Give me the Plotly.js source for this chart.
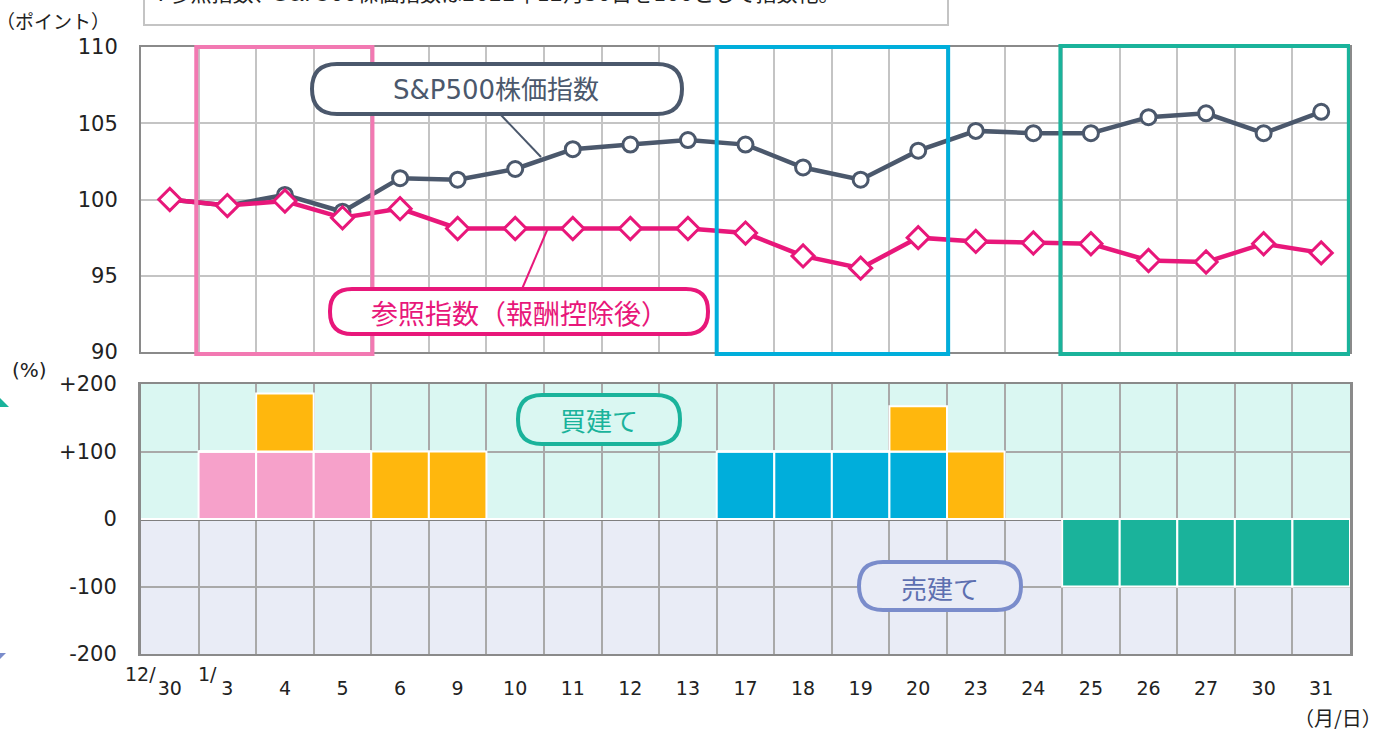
<!DOCTYPE html>
<html>
<head>
<meta charset="utf-8">
<script src="https://cdn.plot.ly/plotly-3.0.1.min.js"></script>
<style>html,body{margin:0;padding:0;background:#fff;}#chart{width:1379px;height:729px;}</style>
</head>
<body>
<div id="chart"></div>
<script>
// ---- data ----
const categories = ['12/30','1/3','4','5','6','9','10','11','12','13','17','18','19','20','23','24','25','26','27','30','31'];
const tickLabels = ['30','3','4','5','6','9','10','11','12','13','17','18','19','20','23','24','25','26','27','30','31'];
const monthPrefixes = [{cat: 0, text: '12/'}, {cat: 1, text: '1/'}];
const sp500 = [100.0, 99.6, 100.3, 99.2, 101.4, 101.3, 102.0, 103.3, 103.6, 103.9, 103.6, 102.1, 101.3, 103.2, 104.5, 104.35, 104.35, 105.4, 105.65, 104.35, 105.75];
const refIndex = [100.0, 99.6, 99.9, 98.8, 99.4, 98.1, 98.1, 98.1, 98.1, 98.1, 97.8, 96.3, 95.5, 97.5, 97.25, 97.15, 97.1, 96.0, 95.9, 97.1, 96.5];
const allocPink   = [0,100,100,100,0,0,0,0,0,0,0,0,0,0,0,0,0,0,0,0,0];
const allocBlue   = [0,0,0,0,0,0,0,0,0,0,100,100,100,100,0,0,0,0,0,0,0];
const allocGreen  = [0,0,0,0,0,0,0,0,0,0,0,0,0,0,0,0,-100,-100,-100,-100,-100];
const allocOrange = [0,0,86,0,100,100,0,0,0,0,0,0,0,67,100,0,0,0,0,0,0];
const upperTicks = [90,95,100,105,110];
const lowerTickVals = [-200,-100,0,100,200];
const lowerTickText = ['-200','-100','0','+100','+200'];

// ---- geometry helpers (pixel -> paper) ----
const L = 141, R = 1350, T = 47, B = 654;
const px = x => (x - L) / (R - L);
const py = y => (B - y) / (B - T);
function roundRect(x0, y0, x1, y1, r) {
  const p = (x, y) => px(x).toFixed(5) + ',' + py(y).toFixed(5);
  return 'M' + p(x0 + r, y0) + ' L' + p(x1 - r, y0) + ' Q' + p(x1, y0) + ' ' + p(x1, y0 + r) +
    ' L' + p(x1, y1 - r) + ' Q' + p(x1, y1) + ' ' + p(x1 - r, y1) +
    ' L' + p(x0 + r, y1) + ' Q' + p(x0, y1) + ' ' + p(x0, y1 - r) +
    ' L' + p(x0, y0 + r) + ' Q' + p(x0, y0) + ' ' + p(x0 + r, y0) + ' Z';
}
function tri(pts) {
  return 'M' + pts.map(q => px(q[0]).toFixed(5) + ',' + py(q[1]).toFixed(5)).join(' L') + ' Z';
}

const idx = categories.map((c, i) => i);
const FONT = 'DejaVu Sans, Noto Sans CJK JP, sans-serif';
const JFONT = 'Noto Sans CJK JP, DejaVu Sans, sans-serif';

const barLine = {color: '#ffffff', width: 2};
const traces = [
  {type: 'bar', x: idx, y: allocPink, xaxis: 'x', yaxis: 'y', width: 1, marker: {color: '#f6a1ca', line: barLine}, name: '1/3-5'},
  {type: 'bar', x: idx, y: allocBlue, xaxis: 'x', yaxis: 'y', width: 1, marker: {color: '#00aedb', line: barLine}, name: '1/17-20'},
  {type: 'bar', x: idx, y: allocGreen, xaxis: 'x', yaxis: 'y', width: 1, marker: {color: '#1ab39b', line: barLine}, name: '1/25-31'},
  {type: 'bar', x: idx, y: allocOrange, xaxis: 'x', yaxis: 'y', width: 1, marker: {color: '#ffb70d', line: barLine}, name: 'other'},
  {type: 'scatter', mode: 'lines+markers', x: idx, y: sp500, xaxis: 'x2', yaxis: 'y2', name: 'S&P500株価指数',
    line: {color: '#4b586c', width: 4.5}, marker: {symbol: 'circle', size: 15, color: '#ffffff', line: {color: '#4b586c', width: 3}}},
  {type: 'scatter', mode: 'lines+markers', x: idx, y: refIndex, xaxis: 'x2', yaxis: 'y2', name: '参照指数（報酬控除後）',
    line: {color: '#e8177a', width: 4.5}, marker: {symbol: 'diamond', size: 17, color: '#ffffff', line: {color: '#e8177a', width: 3}}}
];

const boundaries = idx.slice(0, -1).map(i => i + 0.5);
const gridC = '#c4c4c4';
const frameC = '#8a8a8a';

const shapes = [
  {type: 'rect', xref: 'x', yref: 'y', x0: -0.5, x1: 20.5, y0: 0, y1: 200, fillcolor: '#daf7f2', line: {width: 0}, layer: 'below'},
  {type: 'rect', xref: 'x', yref: 'y', x0: -0.5, x1: 20.5, y0: -200, y1: 0, fillcolor: '#e9ecf6', line: {width: 0}, layer: 'below'},
  {type: 'rect', xref: 'x2', yref: 'paper', x0: 0.46, x1: 3.52, y0: py(354), y1: py(47), line: {color: '#f279b2', width: 4}},
  {type: 'rect', xref: 'x2', yref: 'paper', x0: 9.5, x1: 13.52, y0: py(354), y1: py(47), line: {color: '#00aedb', width: 4}},
  {type: 'rect', xref: 'x2', yref: 'paper', x0: 15.47, x1: 20.48, y0: py(354), y1: py(46), line: {color: '#1ab39b', width: 4}},
  {type: 'line', xref: 'paper', yref: 'paper', x0: px(500), y0: py(114), x1: px(541), y1: py(157), line: {color: '#4b586c', width: 2}},
  {type: 'path', xref: 'paper', yref: 'paper', path: roundRect(312, 64, 682, 114, 25), fillcolor: '#ffffff', line: {color: '#4b586c', width: 4}},
  {type: 'line', xref: 'paper', yref: 'paper', x0: px(548), y0: py(228), x1: px(522), y1: py(289), line: {color: '#e8177a', width: 2}},
  {type: 'path', xref: 'paper', yref: 'paper', path: roundRect(330, 289, 708, 334, 22), fillcolor: '#ffffff', line: {color: '#e8177a', width: 4}},
  {type: 'path', xref: 'paper', yref: 'paper', path: roundRect(518, 395, 680, 444, 24), fillcolor: '#daf7f2', line: {color: '#1ab39b', width: 4}},
  {type: 'path', xref: 'paper', yref: 'paper', path: roundRect(859, 562, 1021, 610, 24), fillcolor: '#e9ecf6', line: {color: '#7a8ccb', width: 4}},
  {type: 'rect', xref: 'paper', yref: 'paper', x0: px(144), x1: px(948), y0: py(25), y1: py(-20), fillcolor: '#ffffff', line: {color: '#c4c4c4', width: 2}},
  {type: 'path', xref: 'paper', yref: 'paper', path: tri([[-1, 397], [9, 407], [-1, 407]]), fillcolor: '#1ab39b', line: {width: 0}},
  {type: 'path', xref: 'paper', yref: 'paper', path: tri([[-1, 653], [6, 653], [-1, 660]]), fillcolor: '#7a8ccb', line: {width: 0}}
];

function note(x, y, text, font, extra) {
  return Object.assign({xref: 'paper', yref: 'paper', x: px(x), y: py(y), xanchor: 'center', yanchor: 'middle',
    text: text, showarrow: false, font: font}, extra || {});
}
const annotations = [
  note(496, 90, 'S&P500株価指数', {family: FONT, size: 26, color: '#4b586c'}),
  note(519, 312, '参照指数（報酬控除後）', {family: JFONT, size: 27, color: '#e8177a'}),
  note(599, 420, '買建て', {family: JFONT, size: 26, color: '#1ab39b'}),
  note(940, 587, '売建て', {family: JFONT, size: 26, color: '#5d6fb0'}),
  note(150, -6, '※参照指数、S&P500株価指数は2022年12月30日を100として指数化。', {family: FONT, size: 21, color: '#222'}, {xanchor: 'left'}),
  note(53, 20, '（ポイント）', {family: JFONT, size: 19, color: '#222'}),
  note(30, 370, '(%)', {family: FONT, size: 20, color: '#222'}),
  note(1338, 717, '（月/日）', {family: JFONT, size: 20, color: '#222'})
].concat(monthPrefixes.map(m => ({xref: 'x', yref: 'paper', x: m.cat, y: py(674), xanchor: 'right', yanchor: 'middle',
  xshift: m.cat === 0 ? -12 : -8, text: m.text, showarrow: false, font: {family: FONT, size: 19, color: '#222'}})));

const layout = {
  width: 1379, height: 729,
  margin: {l: L, r: 1379 - R, t: T, b: 729 - B, pad: 0},
  paper_bgcolor: '#ffffff', plot_bgcolor: 'rgba(0,0,0,0)',
  showlegend: false, barmode: 'relative', bargap: 0,
  font: {family: FONT, size: 19, color: '#222'},
  xaxis: {domain: [0, 1], anchor: 'y', range: [-0.5, 20.5], tickmode: 'array', tickvals: idx, ticktext: tickLabels,
    showgrid: false, zeroline: false, showline: true, mirror: true, linecolor: frameC, linewidth: 2, ticks: '',
    tickfont: {family: FONT, size: 19, color: '#222'}, ticklabelstandoff: 16,
    minor: {tickvals: boundaries, showgrid: true, gridcolor: '#a9a9a9', gridwidth: 2, ticks: ''}},
  yaxis: {domain: [0, py(384)], anchor: 'x', range: [-200, 200], tickmode: 'array', tickvals: lowerTickVals, ticktext: lowerTickText,
    showgrid: true, gridcolor: '#a9a9a9', gridwidth: 2, zeroline: true, zerolinecolor: '#7f7f7f', zerolinewidth: 3,
    showline: true, mirror: true, linecolor: frameC, linewidth: 3, ticks: '', ticklabelstandoff: 17,
    tickfont: {family: FONT, size: 21, color: '#222'}},
  xaxis2: {domain: [0, 1], anchor: 'y2', range: [-0.5, 20.5], tickmode: 'array', tickvals: boundaries, showticklabels: false,
    showgrid: true, gridcolor: gridC, gridwidth: 2, zeroline: false, showline: true, mirror: true, linecolor: frameC, linewidth: 2, ticks: ''},
  yaxis2: {domain: [py(352), 1], anchor: 'x2', range: [90, 110], tickmode: 'array', tickvals: upperTicks,
    showgrid: true, gridcolor: gridC, gridwidth: 2, zeroline: false, showline: true, mirror: true, linecolor: frameC, linewidth: 2,
    ticks: '', ticklabelstandoff: 17, tickfont: {family: FONT, size: 21, color: '#222'}},
  shapes: shapes,
  annotations: annotations
};

Plotly.newPlot('chart', traces, layout, {displayModeBar: false, staticPlot: true});
</script>
</body>
</html>
